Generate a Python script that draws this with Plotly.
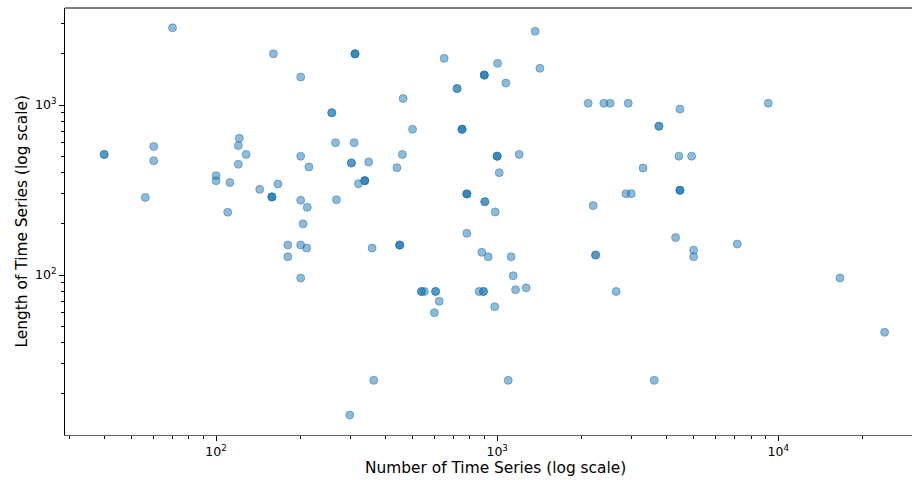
import plotly.graph_objects as go

# Dataset sizes: number of series in each dataset vs. the length of its series
num_series = [
    40, 40, 56, 60, 60, 70, 100, 100, 110, 112,
    120, 121, 120, 128, 143, 158, 158, 158, 160, 166,
    180, 180, 200, 200, 200, 200, 200, 204, 210, 211,
    214, 258, 258, 266, 268, 299, 303, 303, 310, 312,
    312, 312, 321, 338, 338, 338, 349, 359, 364, 440,
    450, 450, 450, 460, 463, 500, 538, 538, 551, 604,
    604, 598, 622, 648, 720, 720, 750, 750, 750, 780,
    780, 780, 780, 882, 863, 894, 894, 900, 900, 900,
    904, 904, 929, 980, 984, 1000, 1000, 1000, 1003, 1017,
    1074, 1095, 1121, 1140, 1163, 1198, 1268, 1365, 1419, 2108,
    2196, 2240, 2240, 2397, 2524, 2651, 2871, 2926, 3000, 3303,
    3622, 3762, 3762, 4313, 4432, 4470, 4470, 4470, 4470, 4918,
    5000, 5000, 7150, 9213, 16580, 23900,
]
series_length = [
    512, 512, 286, 570, 470, 2844, 384, 359, 234, 350,
    577, 637, 448, 512, 319, 288, 288, 288, 2000, 343,
    150, 128, 1460, 500, 275, 150, 96, 200, 144, 250,
    432, 900, 900, 600, 277, 15, 456, 456, 600, 2000,
    2000, 2000, 344, 359, 359, 359, 462, 144, 24, 428,
    150, 150, 150, 512, 1092, 720, 80, 80, 80, 80,
    80, 60, 70, 1882, 1250, 1250, 720, 720, 720, 300,
    300, 300, 176, 136, 80, 80, 80, 1500, 1500, 1500,
    270, 270, 128, 65, 235, 500, 500, 500, 1759, 400,
    1347, 24, 128, 99, 82, 512, 84, 2713, 1643, 1024,
    256, 131, 131, 1024, 1024, 80, 301, 1024, 301, 426,
    24, 750, 750, 166, 500, 947, 315, 315, 315, 500,
    140, 128, 152, 1024, 96, 46,
]

x_major = [100, 1000, 10000]
x_major_text = ["10<sup>2</sup>", "10<sup>3</sup>", "10<sup>4</sup>"]
x_minor = [30, 40, 50, 60, 70, 80, 90,
           200, 300, 400, 500, 600, 700, 800, 900,
           2000, 3000, 4000, 5000, 6000, 7000, 8000, 9000,
           20000, 30000]
y_major = [100, 1000]
y_major_text = ["10<sup>2</sup>", "10<sup>3</sup>"]
y_minor = [20, 30, 40, 50, 60, 70, 80, 90,
           200, 300, 400, 500, 600, 700, 800, 900,
           2000, 3000]

point_color = "rgba(31,119,180,0.5)"
font_family = "DejaVu Sans"

fig = go.Figure(
    go.Scatter(
        x=num_series,
        y=series_length,
        mode="markers",
        marker=dict(size=8, color=point_color,
                    line=dict(color=point_color, width=1)),
        hoverinfo="x+y",
    )
)

axis_common = dict(
    type="log",
    tickmode="array",
    ticks="outside",
    ticklen=5,
    tickwidth=1,
    tickcolor="black",
    showgrid=False,
    zeroline=False,
    showline=True,
    linewidth=1,
    tickfont=dict(family=font_family, size=12.5, color="black"),
)

fig.update_layout(
    width=912,
    height=480,
    margin=dict(l=65, r=0, t=8, b=45),
    paper_bgcolor="white",
    plot_bgcolor="white",
    showlegend=False,
    xaxis=dict(
        axis_common,
        range=[1.4626, 4.4758],
        tickvals=x_major,
        ticktext=x_major_text,
        linecolor="rgb(100,100,100)",
        minor=dict(tickmode="array", tickvals=x_minor, ticks="outside",
                   ticklen=3, tickwidth=1, tickcolor="black", showgrid=False),
    ),
    yaxis=dict(
        axis_common,
        range=[1.0588, 3.5706],
        tickvals=y_major,
        ticktext=y_major_text,
        linecolor="black",
        minor=dict(tickmode="array", tickvals=y_minor, ticks="outside",
                   ticklen=3, tickwidth=1, tickcolor="black", showgrid=False),
    ),
    shapes=[
        dict(type="line", xref="paper", yref="paper", x0=0, x1=1, y0=1, y1=1,
             line=dict(color="black", width=1)),
    ],
    annotations=[
        dict(text="Number of Time Series (log scale)", xref="paper", yref="paper",
             x=(495 - 65) / 847, y=0, yshift=-33, showarrow=False,
             xanchor="center", yanchor="middle",
             font=dict(family=font_family, size=15.4, color="black")),
        dict(text="Length of Time Series (log scale)", xref="paper", yref="paper",
             x=0, y=0.5, xshift=-44, showarrow=False, textangle=-90,
             xanchor="center", yanchor="middle",
             font=dict(family=font_family, size=15.4, color="black")),
    ],
)

fig.write_html("out.html")
